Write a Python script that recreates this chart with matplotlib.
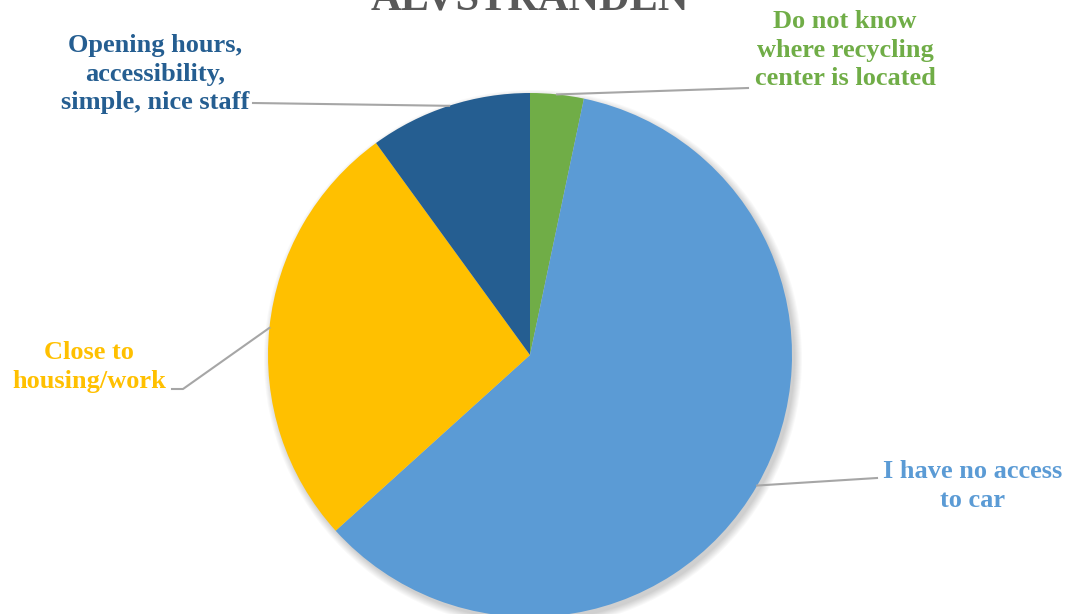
import numpy as np
import matplotlib.pyplot as plt
from matplotlib.patches import Circle

# Data (share of answers)
labels = ["Do not know\nwhere recycling\ncenter is located",
          "I have no access\nto car",
          "Close to\nhousing/work",
          "Opening hours,\naccessibility,\nsimple, nice staff"]
values = [3.3, 60.0, 26.7, 10.0]
colors = ["#70AD47", "#5B9BD5", "#FFC000", "#255E91"]

W, H = 1069, 614
fig = plt.figure(figsize=(W / 100, H / 100), dpi=100)
ax = fig.add_axes([0, 0, 1, 1])

cx, cy, r = 530, H - 355, 262

# soft shadow behind the pie
for k in range(8):
    ax.add_patch(Circle((cx + 3, cy - 4), r + 7 - k, color="black",
                        alpha=0.025, lw=0, zorder=0))

wedges, _ = ax.pie(values, colors=colors, startangle=90, counterclock=False,
                   center=(cx, cy), radius=r, frame=True,
                   wedgeprops={"linewidth": 0, "zorder": 1})
ax.set_xlim(0, W)
ax.set_ylim(0, H)
ax.set_aspect("equal")
ax.axis("off")

# label positions (pixels from top-left) and leader line end points
text_pos = [(845, 50), (973, 486), (89, 367), (155, 74)]
line_end = [(748, 88), (877, 478), (172, 389), (253, 103)]
elbow = [None, None, (183, 389), None]

for w, lab, col, (tx, ty), (lx, ly), el in zip(wedges, labels, colors,
                                                text_pos, line_end, elbow):
    ang = np.deg2rad((w.theta1 + w.theta2) / 2)
    sx, sy = cx + r * np.cos(ang), cy + r * np.sin(ang)
    xs, ys = [sx], [sy]
    if el is not None:
        xs.append(el[0])
        ys.append(H - el[1])
    xs.append(lx)
    ys.append(H - ly)
    ax.plot(xs, ys, color="#A6A6A6", lw=1.5, zorder=3)
    ax.text(tx, H - ty, lab, ha="center", va="center", color=col,
            fontsize=19, fontweight="bold", family="Liberation Serif",
            linespacing=1.32, zorder=4)

fig.text(530 / W, 1 - 9 / H, "ÄLVSTRANDEN", ha="center", va="baseline",
         fontsize=30.5, fontweight="bold", family="Liberation Serif",
         color="#595959")

fig.savefig("out.png", dpi=100)
